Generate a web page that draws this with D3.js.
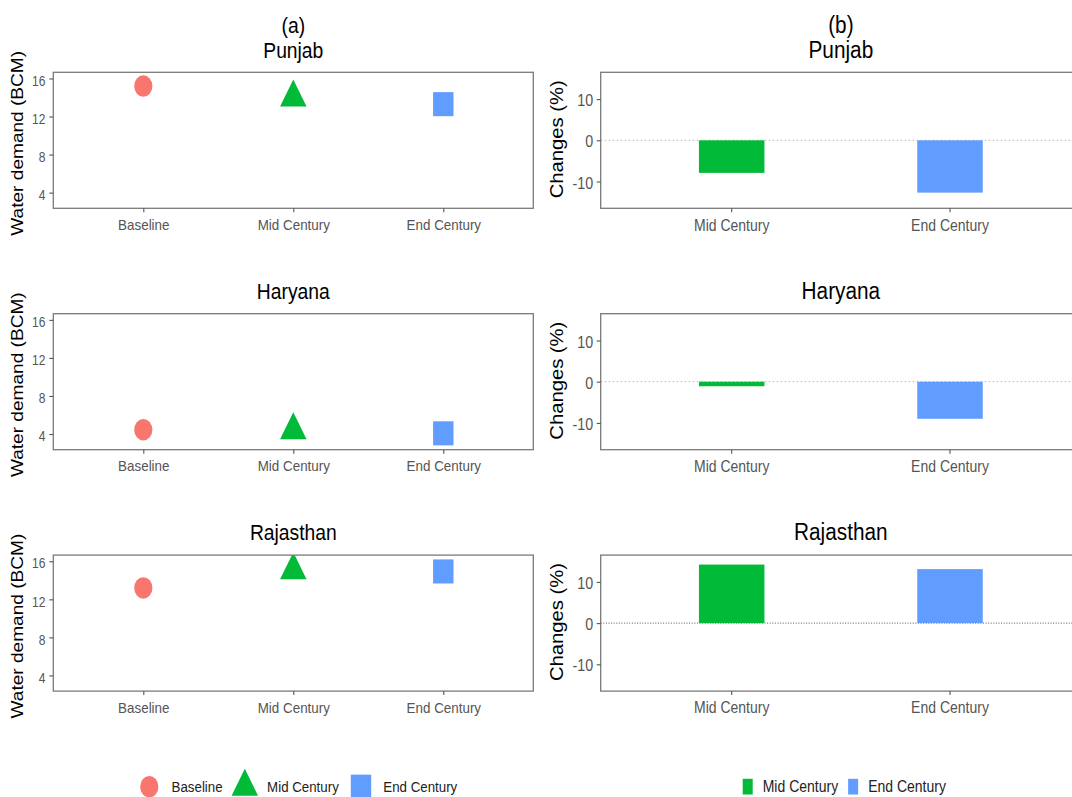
<!DOCTYPE html>
<html>
<head>
<meta charset="utf-8">
<script src="https://cdn.jsdelivr.net/npm/d3@7"></script>
<style>
  html, body { margin: 0; padding: 0; background: #fff; }
  svg { display: block; font-family: "Liberation Sans", Arial, sans-serif; }
</style>
</head>
<body>
<svg id="chart" width="1072" height="797"></svg>
<script>
// ---- data -------------------------------------------------------------
const regions = ["Punjab", "Haryana", "Rajasthan"];
const periods = ["Baseline", "Mid Century", "End Century"];
const changePeriods = ["Mid Century", "End Century"];

// water demand (BCM): Baseline, Mid Century, End Century
const demandPunjab = [15.2, 14.0, 13.3];
const demandHaryana = [4.45, 4.4, 4.07];
const demandRajasthan = [13.2, 15.05, 14.93];

// change in water demand relative to baseline (%): Mid Century, End Century
const changePunjab = [-7.9, -12.7];
const changeHaryana = [-1.1, -9.0];
const changeRajasthan = [14.2, 13.1];

const demandTicks = [4, 8, 12, 16];
const changeTicks = [-10, 0, 10];
const demandLimits = [3, 16];
const changeLimits = [-15, 15];
const panelTags = ["(a)", "(b)"];
const demandTitle = "Water demand (BCM)";
const changeTitle = "Changes (%)";

// ---- styling / layout -------------------------------------------------
const colors = { "Baseline": "#F8766D", "Mid Century": "#00BA38", "End Century": "#619CFF" };
const shapes = { "Baseline": "circle", "Mid Century": "triangle", "End Century": "square" };
const KT = 1.15;   // vertical text proportion
const KM = 1.18;   // vertical marker proportion
const rowTop = [72.3, 313.7, 555.1];
const panelH = 136;
const leftX = [53.3, 533.3];
const rightX = [600.7, 1081];
const frameColor = "#7a7a7a";
const tickTextColor = "#555";
const zeroStyles = [
  { stroke: "#b3b3b3", dash: "1.5,2.5" },
  { stroke: "#b3b3b3", dash: "1.5,2.5" },
  { stroke: "#555555", dash: "1,1.6" }
];

const demandByRegion = [demandPunjab, demandHaryana, demandRajasthan];
const changeByRegion = [changePunjab, changeHaryana, changeRajasthan];

const svg = d3.select("#chart");
const defs = svg.append("defs");

function expand(lim, f = 0.05) {
  const d = (lim[1] - lim[0]) * f;
  return [lim[0] - d, lim[1] + d];
}

// text with a vertical proportion and optional rotation
function stext(parent, x, y, str, opt = {}) {
  const rot = opt.rotate ? ` rotate(${opt.rotate})` : "";
  return parent.append("text")
    .attr("transform", `translate(${x},${y}) scale(1,${KT})${rot}`)
    .attr("text-anchor", opt.anchor || "start")
    .attr("font-size", opt.size || 13)
    .attr("fill", opt.fill || "#000")
    .text(str);
}

function stretchAxisText(axisG, size, dy) {
  axisG.attr("font-family", null).attr("font-size", null);
  axisG.select(".domain").remove();
  axisG.selectAll(".tick line").attr("stroke", "#555").attr("stroke-width", 1.1);
  axisG.selectAll(".tick text").each(function () {
    const t = d3.select(this);
    const x = +t.attr("x") || 0;
    const y = +t.attr("y") || 0;
    t.attr("x", 0).attr("y", 0)
      .attr("transform", `translate(${x},${y}) scale(1,${KT})`)
      .attr("font-size", size)
      .attr("fill", tickTextColor)
      .attr("dy", dy);
  });
}

function drawShape(g, shape, cx, cy, color) {
  const s = g.append("g").attr("transform", `translate(${cx},${cy}) scale(1,${KM})`);
  if (shape === "circle") {
    s.append("circle").attr("r", 9.1).attr("fill", color);
  } else if (shape === "triangle") {
    const r = 15.3;
    const path = d3.path();
    path.moveTo(0, -r);
    path.lineTo(r * Math.sin(Math.PI / 3), r / 2);
    path.lineTo(-r * Math.sin(Math.PI / 3), r / 2);
    path.closePath();
    s.append("path").attr("d", path.toString()).attr("fill", color);
  } else {
    const a = 20.4;
    s.append("rect").attr("x", -a / 2).attr("y", -a / 2).attr("width", a).attr("height", a).attr("fill", color);
  }
}

// ---- panels -------------------------------------------------------------
regions.forEach((region, i) => {
  const top = rowTop[i];
  const bottom = top + panelH;

  // ----- (a) water demand points -----
  const x = d3.scalePoint().domain(periods).range(leftX).padding(0.6);
  const y = d3.scaleLinear().domain(expand(demandLimits)).range([bottom, top]);

  const gA = svg.append("g");
  const clipA = `clipA${i}`;
  defs.append("clipPath").attr("id", clipA).append("rect")
    .attr("x", leftX[0]).attr("y", top).attr("width", leftX[1] - leftX[0]).attr("height", panelH);

  const pts = gA.append("g").attr("clip-path", `url(#${clipA})`);
  periods.forEach((p, j) => {
    drawShape(pts, shapes[p], x(p), y(demandByRegion[i][j]), colors[p]);
  });

  gA.append("rect")
    .attr("x", leftX[0]).attr("y", top).attr("width", leftX[1] - leftX[0]).attr("height", panelH)
    .attr("fill", "none").attr("stroke", frameColor).attr("stroke-width", 1.3);

  const axL = gA.append("g").attr("transform", `translate(${leftX[0]},0)`)
    .call(d3.axisLeft(y).tickValues(demandTicks).tickSize(4).tickPadding(4).tickFormat(d3.format("d")));
  stretchAxisText(axL, 12, "0.485em");

  const axB = gA.append("g").attr("transform", `translate(0,${bottom})`)
    .call(d3.axisBottom(x).tickSize(4).tickPadding(6.7));
  stretchAxisText(axB, 13.4, "0.71em");

  stext(gA, 23.3, (top + bottom) / 2 + 3, demandTitle, { rotate: -90, anchor: "middle", size: 16.6 });
  const cA = (leftX[0] + leftX[1]) / 2;
  stext(gA, cA, top - 14.8, region, { anchor: "middle", size: 19.3 });
  if (i === 0) stext(gA, cA, 33, panelTags[0], { anchor: "middle", size: 19.3 });

  // ----- (b) percent change bars -----
  const xb = d3.scaleBand().domain(changePeriods).range(rightX).paddingInner(0.7).paddingOuter(0.45);
  const yb = d3.scaleLinear().domain(expand(changeLimits)).range([bottom, top]);

  const gB = svg.append("g");
  const clipB = `clipB${i}`;
  defs.append("clipPath").attr("id", clipB).append("rect")
    .attr("x", rightX[0]).attr("y", top).attr("width", rightX[1] - rightX[0]).attr("height", panelH);

  const bars = gB.append("g").attr("clip-path", `url(#${clipB})`);
  bars.append("line")
    .attr("x1", rightX[0]).attr("x2", rightX[1]).attr("y1", yb(0)).attr("y2", yb(0))
    .attr("stroke", zeroStyles[i].stroke).attr("stroke-dasharray", zeroStyles[i].dash).attr("stroke-width", 1);
  bars.selectAll("rect.bar").data(changePeriods).join("rect")
    .attr("class", "bar")
    .attr("x", d => xb(d))
    .attr("width", xb.bandwidth())
    .attr("y", (d, j) => Math.min(yb(0), yb(changeByRegion[i][j])))
    .attr("height", (d, j) => Math.abs(yb(changeByRegion[i][j]) - yb(0)))
    .attr("fill", d => colors[d]);

  gB.append("rect")
    .attr("x", rightX[0]).attr("y", top).attr("width", rightX[1] - rightX[0]).attr("height", panelH)
    .attr("fill", "none").attr("stroke", frameColor).attr("stroke-width", 1.3);

  const axLb = gB.append("g").attr("transform", `translate(${rightX[0]},0)`)
    .call(d3.axisLeft(yb).tickValues(changeTicks).tickSize(4).tickPadding(3.5).tickFormat(d3.format("d")));
  stretchAxisText(axLb, 14.3, "0.40em");
  axLb.selectAll(".tick text").text(d => d < 0 ? "-" + Math.abs(d) : d);

  const axBb = gB.append("g").attr("transform", `translate(0,${bottom})`)
    .call(d3.axisBottom(xb).tickSize(4).tickPadding(6.9));
  stretchAxisText(axBb, 14, "0.71em");

  stext(gB, 562.8, (top + bottom) / 2 - 1, changeTitle, { rotate: -90, anchor: "middle", size: 17.6 });
  const cB = (rightX[0] + rightX[1]) / 2;
  stext(gB, cB, top - 14.8, region, { anchor: "middle", size: 20.8 });
  if (i === 0) stext(gB, cB, 33, panelTags[1], { anchor: "middle", size: 20.8 });
});

// ---- legends --------------------------------------------------------------
const legY = 786.7;
const legBase = 792.3;

// legend for the demand panels
const legA = svg.append("g");
let cx = 149.3;
periods.forEach(p => {
  drawShape(legA, shapes[p], cx, legY, colors[p]);
  const t = stext(legA, cx + 22.3, legBase, p, { size: 13.3, fill: "#222" });
  cx = cx + 22.3 + t.node().getComputedTextLength() + 22.2;
});

// legend for the change panels
const legB = svg.append("g");
let lx = 742.7;
changePeriods.forEach(p => {
  legB.append("rect")
    .attr("x", lx).attr("y", legY - 7.9).attr("width", 10).attr("height", 15.7)
    .attr("fill", colors[p]);
  const t = stext(legB, lx + 20, legBase, p, { size: 14, fill: "#222" });
  lx = lx + 20 + t.node().getComputedTextLength() + 10;
});
</script>
</body>
</html>
